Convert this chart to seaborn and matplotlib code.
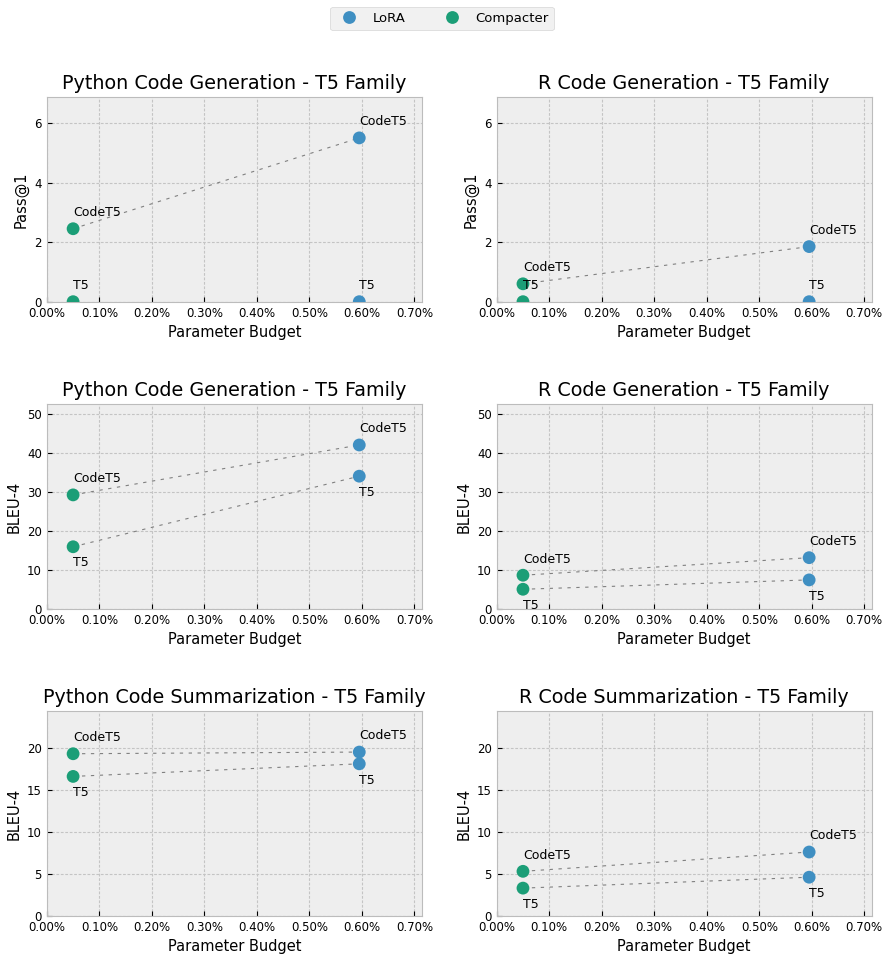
import numpy as np
import pandas as pd
import matplotlib
matplotlib.use("Agg")
import matplotlib.pyplot as plt
import seaborn as sns
from matplotlib.ticker import PercentFormatter, MultipleLocator

plt.style.use("bmh")

# budgets (fraction of params)
methods = ["LoRA", "Compacter"]
budgets = {"LoRA": 0.00595, "Compacter": 0.0005}
models = ["CodeT5", "T5"]

panel_titles = [
    "Python Code Generation - T5 Family", "R Code Generation - T5 Family",
    "Python Code Generation - T5 Family", "R Code Generation - T5 Family",
    "Python Code Summarization - T5 Family", "R Code Summarization - T5 Family",
]
panel_ylabels = ["Pass@1", "Pass@1", "BLEU-4", "BLEU-4", "BLEU-4", "BLEU-4"]
row_ytick_steps = [2, 10, 5]

# scores per panel: [CodeT5, T5]
lora_scores = [
    [5.5, 0.0], [1.85, 0.0],
    [42.0, 34.0], [13.1, 7.4],
    [19.5, 18.1], [7.6, 4.6],
]
compacter_scores = [
    [2.45, 0.0], [0.6, 0.0],
    [29.2, 15.9], [8.6, 5.0],
    [19.3, 16.6], [5.3, 3.3],
]

palette = {"LoRA": "#3f8fc2", "Compacter": "#1b9e77"}

fig, axes = plt.subplots(3, 2, figsize=(8.84, 9.6), dpi=100)
fig.subplots_adjust(left=0.053, right=0.986, top=0.899, bottom=0.046,
                    wspace=0.2, hspace=0.5)

for i, ax in enumerate(axes.flat):
    rows = []
    for m in methods:
        sc = lora_scores[i] if m == "LoRA" else compacter_scores[i]
        for j, mod in enumerate(models):
            rows.append({"Method": m, "Model": mod, "Budget": budgets[m], "Score": sc[j]})
    df = pd.DataFrame(rows)

    # dashed line connecting the same model across methods
    for mod in models:
        sub = df[df["Model"] == mod].sort_values("Budget")
        if (sub["Score"] == 0).all():
            continue
        ax.plot(sub["Budget"], sub["Score"], ls=(0, (3, 5)), color="#808080", lw=0.8, zorder=2)

    sns.scatterplot(data=df, x="Budget", y="Score", hue="Method", palette=palette,
                    hue_order=methods, s=85, edgecolor="none", ax=ax, zorder=3,
                    legend=(i == 0))

    for _, r in df.iterrows():
        other = df[(df["Method"] == r["Method"]) & (df["Model"] != r["Model"])]["Score"].iloc[0]
        if r["Score"] >= other or r["Score"] == 0:
            ax.annotate(r["Model"], (r["Budget"], r["Score"]), xytext=(0, 7),
                        textcoords="offset points", ha="left", va="bottom", fontsize=9)
        else:
            ax.annotate(r["Model"], (r["Budget"], r["Score"]), xytext=(0, -7),
                        textcoords="offset points", ha="left", va="top", fontsize=9)

    row = i // 2
    ymax = max(max(lora_scores[2 * row] + lora_scores[2 * row + 1]),
               max(compacter_scores[2 * row] + compacter_scores[2 * row + 1])) * 1.25
    ax.set_ylim(0, ymax)
    ax.yaxis.set_major_locator(MultipleLocator(row_ytick_steps[row]))
    ax.set_xlim(0, max(budgets.values()) * 1.2)
    ax.xaxis.set_major_locator(MultipleLocator(0.001))
    ax.xaxis.set_major_formatter(PercentFormatter(xmax=1, decimals=2))
    ax.grid(True, ls=(0, (2.5, 1.5)), color="#c4c4c4", lw=0.8)
    ax.set_title(panel_titles[i], fontsize=13.8)
    ax.set_xlabel("Parameter Budget", fontsize=10.5)
    ax.set_ylabel(panel_ylabels[i], fontsize=10.5)
    ax.tick_params(labelsize=8.5)

handles, labels = axes[0, 0].get_legend_handles_labels()
axes[0, 0].get_legend().remove()
fig.legend(handles, labels, loc="upper center", ncol=2, bbox_to_anchor=(0.5, 1.0),
           fontsize=9.5, frameon=True, columnspacing=2.5)

fig.savefig("out.png", dpi=100)
